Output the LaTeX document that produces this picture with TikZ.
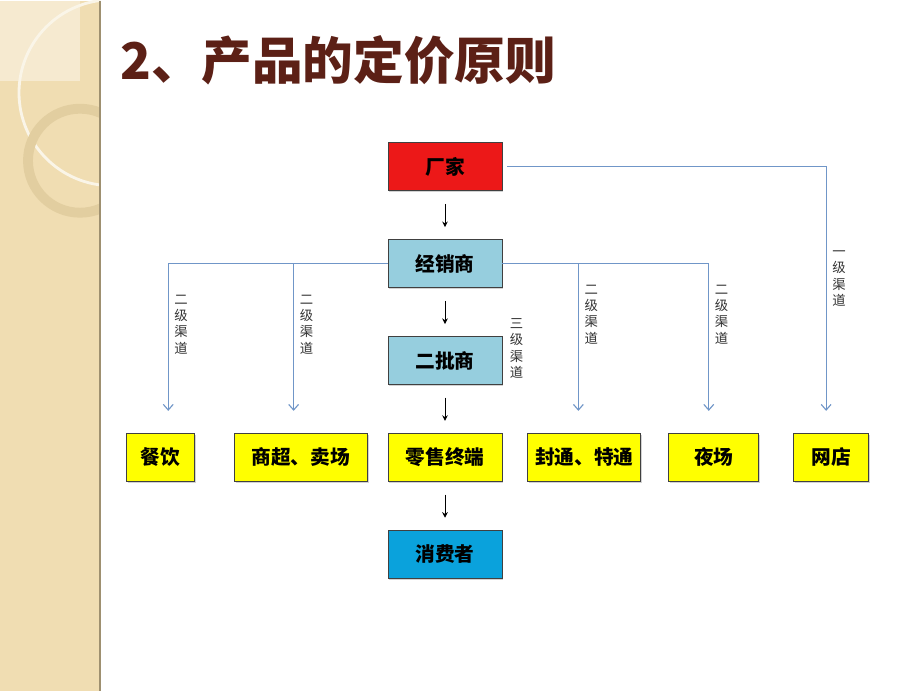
\documentclass[tikz,border=0pt]{standalone}
\usepackage{fontspec}
\newfontfamily\cjk{Noto Sans CJK SC}
\usetikzlibrary{arrows.meta}
\usetikzlibrary{positioning}
\usetikzlibrary{shadows}

\definecolor{cjred}{RGB}{236,24,24}
\definecolor{cjlblue}{RGB}{150,206,222}
\definecolor{cjblue}{RGB}{10,162,220}
\definecolor{cjyellow}{RGB}{255,255,0}
\definecolor{chanline}{RGB}{112,150,200}
\definecolor{titlebrown}{RGB}{92,32,22}
\definecolor{bgtan}{RGB}{240,221,178}
\definecolor{bglight}{RGB}{246,234,208}
\definecolor{ringtan}{RGB}{226,206,160}

\begin{document}
\begin{tikzpicture}[x=0.025cm,y=-0.025cm,
    box/.style={draw=black!75, line width=0.6pt, minimum height=1.2cm, inner sep=0pt,
      font=\cjk\bfseries\fontsize{14}{16}\selectfont,
      drop shadow={shadow xshift=1pt, shadow yshift=-1pt, opacity=.35}},
    mid/.style={box, minimum width=2.85cm},
    darr/.style={-{Stealth[length=4pt,width=4pt]}, line width=0.7pt, shorten <=0.32cm, shorten >=0.3cm},
    chan/.style={-{Straight Barb[length=4pt,width=7pt]}, draw=chanline, line width=0.8pt, shorten >=0.55cm},
    tag/.style={right=3pt, inner sep=1pt, align=center, text=black!80,
      font=\cjk\fontsize{9.5}{11.6}\selectfont}]

  % page
  \fill[white] (0,0) rectangle (920,690);
  \fill[bgtan] (0,0) rectangle (100,690);
  \fill[bglight] (0,0) rectangle (80,80);
  \begin{scope}
    \clip (0,0) rectangle (100,690);
    \draw[white!70!bgtan, line width=2pt] (112,92) circle (93);
    \draw[ringtan, line width=7pt] (80,160) circle (52);
  \end{scope}
  \draw[ringtan!70!black, line width=1pt] (100,0) -- (100,690);

  % title
  \node[anchor=west, inner sep=0pt, text=titlebrown,
    font=\cjk\bfseries\fontsize{36}{40}\selectfont] (title) at (120,60) {2、产品的定价原则};

  % center column
  \node[mid, fill=cjred] (cj) at (445,166) {厂家};
  \node[mid, fill=cjlblue] (jxs) [below=1.2cm of cj] {经销商};
  \node[mid, fill=cjlblue] (ep) [below=1.2cm of jxs] {二批商};
  \node[mid, fill=cjyellow] (ls) [below=1.2cm of ep] {零售终端};
  \node[mid, fill=cjblue] (xf) [below=1.2cm of ls] {消费者};

  % bottom row
  \node[box, fill=cjyellow, minimum width=3.325cm] (sc) [left=0.5cm of ls] {商超、卖场};
  \node[box, fill=cjyellow, minimum width=1.7cm] (cy) [left=0.975cm of sc] {餐饮};
  \node[box, fill=cjyellow, minimum width=2.825cm] (ft) [right=0.625cm of ls] {封通、特通};
  \node[box, fill=cjyellow, minimum width=2.25cm] (yc) [right=0.675cm of ft] {夜场};
  \node[box, fill=cjyellow, minimum width=1.875cm] (wd) [right=0.85cm of yc] {网店};

  % main flow
  \draw[darr] (cj.south) -- (jxs.north);
  \draw[darr] (jxs.south) -- (ep.north);
  \draw[darr] (ep.south) -- (ls.north);
  \draw[darr] (ls.south) -- (xf.north);

  % channels
  \draw[chan] (jxs.west) -| node[tag, pos=0.68] {二\\级\\渠\\道} ([xshift=0.2cm]cy.north);
  \draw[chan] (jxs.west) -| node[tag, pos=0.68] {二\\级\\渠\\道} ([xshift=-0.175cm]sc.north);
  \draw[chan] (jxs.east) -| node[tag, pos=0.65] {二\\级\\渠\\道} ([xshift=-0.15cm]ft.north);
  \draw[chan] (jxs.east) -| node[tag, pos=0.65] {二\\级\\渠\\道} ([xshift=-0.125cm]yc.north);
  \draw[chan, shorten <=0.12cm] (cj.east) -| node[tag, pos=0.71] {一\\级\\渠\\道} ([xshift=-0.125cm]wd.north);
  \node[tag, right=4pt of ep.east, anchor=west, yshift=0.3cm] (sj) {三\\级\\渠\\道};

\end{tikzpicture}
\end{document}
